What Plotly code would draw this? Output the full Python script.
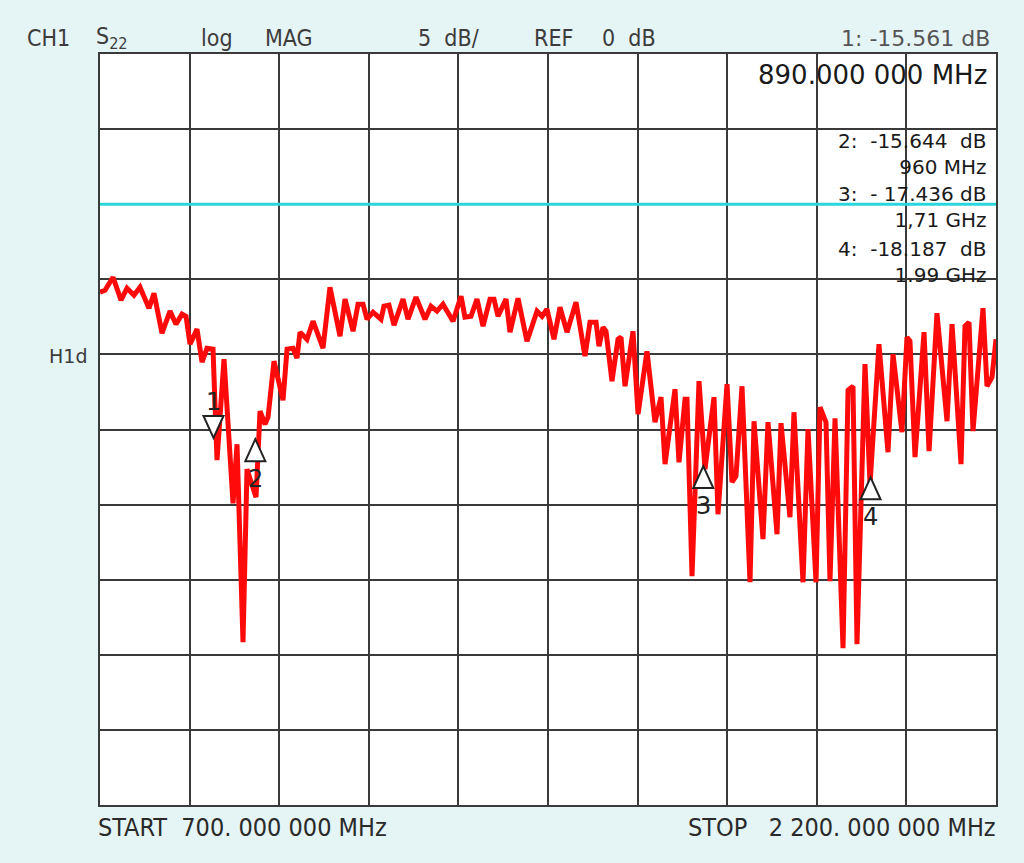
import plotly.graph_objects as go

# ---- data ----
start_mhz = 700.0
stop_mhz = 2200.0
ref_level_db = 0.0
db_per_div = 5.0

freq_mhz = [700, 708.4, 721.8, 735.2, 745.2, 756.9, 767.0, 782.0, 790.4, 803.8,
            817.2, 827.2, 837.3, 844.0, 850.7, 862.4, 870.8, 879.1, 889.2, 895.9,
            907.6, 922.7, 929.4, 939.4, 946.1, 961.2, 967.9, 976.2, 981.3, 991.3,
            1006.4, 1013.1, 1023.1, 1029.8, 1034.8, 1046.5, 1056.6, 1073.3, 1085.0, 1101.8,
            1110.2, 1123.6, 1131.9, 1140.3, 1147.0, 1157.0, 1170.4, 1175.4, 1183.8, 1192.2,
            1207.3, 1215.6, 1229.0, 1244.1, 1254.1, 1264.2, 1274.2, 1291.0, 1304.4, 1311.0,
            1321.1, 1331.1, 1341.2, 1352.9, 1359.6, 1366.3, 1379.7, 1386.4, 1399.8, 1414.8,
            1431.6, 1440.0, 1448.3, 1460.0, 1470.1, 1481.8, 1496.9, 1511.9, 1520.3, 1530.4,
            1535.4, 1542.1, 1547.1, 1557.1, 1567.2, 1572.2, 1578.9, 1592.3, 1600.7, 1615.7,
            1629.1, 1639.2, 1645.9, 1662.6, 1669.3, 1679.4, 1682.7, 1691.1, 1702.8, 1712.8,
            1727.9, 1734.6, 1749.7, 1758.0, 1764.7, 1774.8, 1788.2, 1794.9, 1809.9, 1818.3,
            1833.4, 1840.1, 1855.1, 1861.8, 1876.9, 1885.3, 1898.7, 1905.4, 1915.4, 1922.1,
            1930.5, 1943.9, 1952.3, 1960.6, 1967.3, 1980.7, 1989.1, 2004.1, 2019.2, 2027.6,
            2042.6, 2051.0, 2056.0, 2064.4, 2079.5, 2087.9, 2101.2, 2118.0, 2126.4, 2141.4,
            2148.1, 2154.8, 2161.5, 2178.2, 2184.9, 2193.3, 2200]

s22_db = [-5.86, -5.73, -4.86, -6.39, -5.59, -6.06, -5.53, -6.92, -5.93, -8.59,
          -7.12, -7.99, -7.32, -7.46, -9.32, -8.32, -10.52, -9.59, -9.65, -17.04,
          -10.32, -19.91, -15.98, -29.16, -17.64, -19.51, -13.78, -14.65, -14.18, -10.45,
          -13.05, -9.65, -9.59, -10.25, -8.52, -8.99, -7.79, -9.59, -5.53, -8.79,
          -6.32, -8.46, -6.66, -6.66, -7.66, -7.19, -7.66, -6.79, -6.72, -8.06,
          -6.32, -7.66, -6.19, -7.66, -6.79, -7.12, -6.66, -7.79, -6.13, -7.52,
          -7.46, -6.32, -8.12, -6.32, -6.32, -7.46, -6.32, -8.52, -6.26, -9.12,
          -7.12, -7.46, -6.99, -8.99, -6.86, -8.52, -6.52, -10.12, -7.86, -7.86,
          -9.45, -8.19, -8.46, -11.78, -8.99, -8.85, -12.12, -8.46, -13.98, -9.79,
          -14.51, -12.85, -17.31, -12.32, -17.18, -12.98, -12.98, -24.77, -11.78, -17.64,
          -12.85, -20.64, -11.98, -18.51, -18.11, -12.12, -25.17, -14.45, -22.30, -14.51,
          -21.97, -14.58, -20.84, -13.85, -25.17, -14.98, -25.17, -13.52, -14.51, -25.10,
          -14.25, -29.56, -12.38, -12.12, -29.29, -10.65, -18.64, -9.32, -16.51, -9.99,
          -15.18, -8.85, -9.12, -16.84, -8.52, -16.44, -7.26, -14.45, -7.99, -17.31,
          -8.12, -7.86, -15.11, -6.92, -12.12, -11.52, -8.99]

marker_ids = ["1", "2", "3", "4"]
marker_freq_mhz = [890.0, 960.0, 1710.0, 1990.0]
marker_db = [-15.561, -15.644, -17.436, -18.187]
marker_dir = ["down", "up", "up", "up"]

header_texts = ["CH1", "S<sub>22</sub>", "log", "MAG", "5  dB/", "REF", "0  dB"]
marker_readout = ["2:  -15.644  dB<br>960 MHz",
                  "3:  - 17.436 dB<br>1,71 GHz",
                  "4:  -18.187  dB<br>1.99 GHz"]

# ---- layout constants ----
W, H = 1024, 863
L, R, T, B = 100, 28, 54, 58
PW, PH = W - L - R, H - T - B
BG = "#E5F4F5"
GRID = "#3a3a3a"
NARROW = "Liberation Sans Narrow, DejaVu Sans Condensed, Arial Narrow, sans-serif"
WIDE = "DejaVu Sans, Verdana, sans-serif"


def px(xp):
    return (xp - L) / PW


def py(yp):
    return (T + PH - yp) / PH


fig = go.Figure()

# reference level line
fig.add_trace(go.Scatter(x=[start_mhz, stop_mhz], y=[ref_level_db, ref_level_db],
                         mode="lines", line=dict(color="#2AD6DE", width=3),
                         hoverinfo="skip", showlegend=False))
# measured trace
fig.add_trace(go.Scatter(x=freq_mhz, y=s22_db, mode="lines",
                         line=dict(color="#FF0A0A", width=5),
                         showlegend=False))

shapes = []
annotations = []
# marker triangles (tip at marker point) and numbers
tw, th = 10, 22
for mid, f, d, dr in zip(marker_ids, marker_freq_mhz, marker_db, marker_dir):
    if dr == "down":
        path = f"M0,0 L{-tw},{th} L{tw},{th} Z"
        ys = 36
    else:
        path = f"M0,0 L{-tw},{-th} L{tw},{-th} Z"
        ys = -40
    shapes.append(dict(type="path", xref="x", yref="y", xsizemode="pixel", ysizemode="pixel",
                       xanchor=f, yanchor=d, path=path,
                       line=dict(color="#222222", width=2), fillcolor="white", layer="above"))
    annotations.append(dict(x=f, y=d, xref="x", yref="y", text=mid, showarrow=False,
                            yshift=ys, font=dict(family=WIDE, size=24, color="#222222")))

# reference position indicator on the left edge
shapes.append(dict(type="path", xref="x", yref="y", xsizemode="pixel", ysizemode="pixel",
                   xanchor=start_mhz, yanchor=ref_level_db,
                   path="M-20,5 L-3,0 L-20,-5 Z",
                   line=dict(color="#444444", width=1.5), fillcolor="rgba(0,0,0,0)"))

# header
header_x = [25, 94, 199, 263, 416, 532, 600]
for t, xp in zip(header_texts, header_x):
    annotations.append(dict(x=px(xp), y=py(38), xref="paper", yref="paper", text=t,
                            showarrow=False, xanchor="left", yanchor="middle",
                            font=dict(family=NARROW, size=23, color="#3c3c3c")))
annotations.append(dict(x=px(992), y=py(38), xref="paper", yref="paper",
                        text=f"1: {marker_db[0]:.3f} dB", showarrow=False,
                        xanchor="right", yanchor="middle",
                        font=dict(family=WIDE, size=22, color="#555555")))

# marker readout inside the graticule
annotations.append(dict(x=px(989), y=py(75), xref="paper", yref="paper",
                        text=f"{marker_freq_mhz[0]:.3f} 000 MHz", showarrow=False,
                        xanchor="right", yanchor="middle",
                        font=dict(family=WIDE, size=26, color="#1a1a1a")))
readout_y = [154, 207, 262]
for t, yp in zip(marker_readout, readout_y):
    annotations.append(dict(x=px(989), y=py(yp), xref="paper", yref="paper", text=t,
                            showarrow=False, xanchor="right", yanchor="middle", align="right",
                            font=dict(family=WIDE, size=20, color="#1a1a1a")))

annotations.append(dict(x=px(89), y=py(356), xref="paper", yref="paper", text="H1d",
                        showarrow=False, xanchor="right", yanchor="middle",
                        font=dict(family=WIDE, size=19, color="#3c3c3c")))

annotations.append(dict(x=px(96), y=py(828), xref="paper", yref="paper",
                        text="START  700. 000 000 MHz", showarrow=False,
                        xanchor="left", yanchor="middle",
                        font=dict(family=NARROW, size=25, color="#2a2a2a")))
annotations.append(dict(x=px(998), y=py(828), xref="paper", yref="paper",
                        text="STOP   2 200. 000 000 MHz", showarrow=False,
                        xanchor="right", yanchor="middle",
                        font=dict(family=NARROW, size=25, color="#2a2a2a")))

axis_common = dict(showgrid=True, gridcolor=GRID, gridwidth=2, showticklabels=False,
                   ticks="", zeroline=False, showline=True, mirror=True,
                   linecolor=GRID, linewidth=2, fixedrange=True)

fig.update_layout(
    width=W, height=H,
    margin=dict(l=L, r=R, t=T, b=B, pad=0),
    paper_bgcolor=BG, plot_bgcolor="white",
    xaxis=dict(range=[start_mhz, stop_mhz], tick0=start_mhz, dtick=(stop_mhz - start_mhz) / 10,
               **axis_common),
    yaxis=dict(range=[ref_level_db - 8 * db_per_div, ref_level_db + 2 * db_per_div],
               tick0=ref_level_db, dtick=db_per_div, **axis_common),
    shapes=shapes, annotations=annotations, showlegend=False,
)

fig.write_html("out.html")
